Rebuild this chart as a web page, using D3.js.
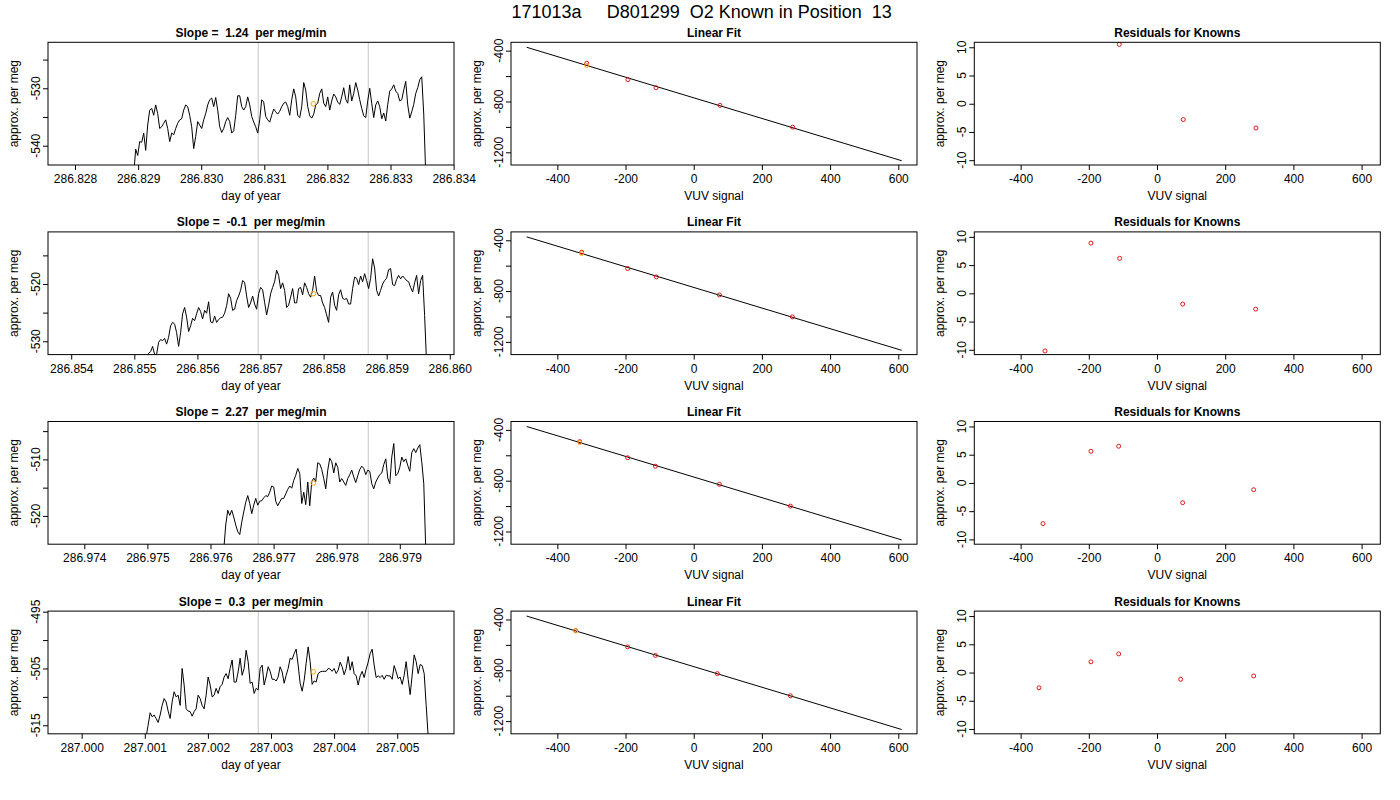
<!DOCTYPE html>
<html>
<head>
<meta charset="utf-8">
<script src="https://cdnjs.cloudflare.com/ajax/libs/d3/7.8.5/d3.min.js"></script>
<style>
body { margin: 0; background: #fff; }
text { font-family: "Liberation Sans", Arial, Helvetica, sans-serif; }
</style>
</head>
<body>
<div id="chart"></div>
<script>
var mainTitle = "171013a     D801299  O2 Known in Position  13";
var slopeTexts = ["1.24", "-0.1", "2.27", "0.3"];

// time series: start day, sampling step (day) and values (per meg)
var startDays = [286.82893, 286.855195, 286.97621, 287.001021];
var sampleStep = 0.0000317;

var series1 = [
  -545, -540.6, -541.7, -539.3, -539.4, -537.8, -540.8, -536.4, -533.8, -533.5,
  -534.7, -532.9, -534.4, -537.0, -536.7, -536.1, -535.5, -537.0, -539.3, -537.8,
  -538.1, -537.0, -536.1, -535.5, -535.3, -533.8, -532.9, -533.2, -534.7, -536.7,
  -540.5, -538.4, -535.8, -536.4, -537.0, -535.5, -534.4, -532.9, -532.0, -531.7,
  -533.2, -531.6, -533.8, -536.7, -537.7, -537.0, -535.8, -535.1, -535.8, -537.8,
  -537.4, -534.7, -531.3, -531.3, -533.2, -533.8, -533.2, -531.5, -532.9, -534.9,
  -535.9, -536.7, -537.8, -535.5, -532.0, -532.4, -534.9, -535.5, -535.9, -534.7,
  -533.6, -534.1, -534.5, -534.0, -533.2, -532.6, -532.4, -533.2, -534.7, -532.0,
  -530.1, -531.5, -534.7, -535.1, -533.2, -529.0, -530.3, -533.2, -534.8, -535.2,
  -534.5, -532.9, -532.6, -530.9, -530.1, -532.6, -533.2, -531.5, -533.8, -532.2,
  -531.0, -531.5, -532.4, -532.8, -531.5, -529.9, -531.9, -532.6, -529.4, -532.2,
  -530.9, -529.0, -530.3, -532.0, -533.5, -534.8, -535.1, -532.2, -530.0, -532.6,
  -535.1, -532.9, -532.2, -533.2, -535.3, -534.3, -535.7, -532.8, -530.5, -530.1,
  -529.4, -530.5, -530.9, -532.2, -532.0, -530.3, -528.8, -532.9, -535.2, -534.1,
  -532.8, -530.9, -529.9, -528.5, -528.0, -534.5, -545
];
var series2 = [
  -533, -532.1, -531.8, -530.9, -532.3, -532.3, -530.2, -529.7, -529.9, -529.5,
  -530.5, -529.3, -527.3, -526.7, -527.0, -528.5, -530.9, -528.5, -525.2, -524.1,
  -525.8, -528.3, -527.3, -526.0, -526.4, -525.2, -524.1, -524.8, -526.1, -524.6,
  -525.1, -523.1, -526.6, -526.8, -525.6, -526.7, -526.2, -525.9, -525.8, -525.1,
  -523.8, -521.7, -522.5, -524.6, -524.4, -522.9, -522.1, -521.1, -519.4, -519.7,
  -522.1, -524.1, -523.3, -522.1, -523.5, -524.4, -521.7, -520.6, -521.0, -523.2,
  -525.4, -523.7, -521.7, -520.6, -519.6, -517.6, -518.5, -520.8, -519.8, -521.1,
  -524.1, -523.7, -522.3, -520.8, -523.3, -523.3, -520.8, -520.6, -521.9, -519.8,
  -520.6, -521.7, -522.3, -521.1, -518.6, -521.3, -522.0, -522.0, -523.3, -524.1,
  -525.4, -526.7, -522.3, -521.4, -523.7, -524.6, -521.9, -521.0, -522.5, -522.7,
  -522.5, -523.5, -523.5, -520.8, -518.8, -519.0, -520.1, -518.6, -519.6, -518.2,
  -519.4, -520.8, -519.0, -515.6, -517.2, -521.1, -522.1, -521.1, -520.0, -519.4,
  -519.0, -517.5, -517.3, -520.1, -520.3, -519.2, -518.5, -519.1, -518.6, -519.0,
  -519.4, -519.6, -520.6, -521.4, -519.8, -518.5, -521.7, -519.4, -518.5, -525.5,
  -534
];
var series3 = [
  -526, -521.6, -519.0, -519.9, -519.0, -520.2, -521.6, -522.8, -523.3, -521.1,
  -519.3, -517.6, -516.4, -517.8, -519.6, -518.1, -516.9, -518.1, -517.4, -517.3,
  -516.8, -516.4, -516.6, -515.8, -514.7, -514.9, -517.4, -518.2, -517.5, -516.9,
  -516.9, -516.1, -515.3, -514.7, -515.1, -513.7, -512.8, -511.6, -512.5, -517.8,
  -515.8, -518.0, -514.0, -518.2, -513.9, -513.3, -513.9, -510.6, -510.8, -511.8,
  -513.4, -515.2, -511.9, -509.8, -510.4, -512.4, -510.6, -511.4, -514.0, -513.4,
  -514.0, -514.6, -513.4, -512.7, -511.9, -513.1, -514.1, -512.9, -511.8, -511.2,
  -511.6, -512.7, -511.9, -512.1, -514.3, -515.2, -514.0, -513.3, -512.7, -512.4,
  -510.9, -509.9, -513.3, -514.3, -509.6, -507.2, -512.9, -512.5, -511.4, -509.6,
  -510.4, -509.9, -511.1, -512.1, -508.8, -508.1, -508.8, -508.0, -507.4, -510.5,
  -514.3, -526
];
var series4 = [
  -517, -515.0, -512.8, -513.5, -513.2, -513.8, -514.5, -513.2, -511.5, -510.3,
  -510.9, -512.5, -513.8, -510.9, -509.1, -510.0, -509.7, -511.5, -505.0, -507.9,
  -512.1, -512.5, -512.6, -513.4, -512.6, -512.1, -509.7, -510.3, -511.5, -512.1,
  -509.7, -506.5, -507.9, -510.0, -509.7, -508.5, -509.4, -508.2, -507.8, -506.5,
  -505.9, -506.8, -505.0, -503.5, -507.4, -507.4, -505.6, -503.2, -506.2, -505.0,
  -501.8, -503.8, -507.6, -507.4, -509.4, -508.5, -508.8, -505.0, -504.4, -507.9,
  -506.5, -504.7, -505.5, -506.9, -506.9, -507.2, -506.5, -504.7, -505.6, -507.6,
  -506.2, -505.0, -503.2, -503.4, -502.4, -501.6, -504.4, -507.6, -509.0, -507.1,
  -504.1, -501.2, -503.8, -507.8, -507.2, -507.4, -505.9, -505.6, -505.5, -505.5,
  -505.5, -505.0, -505.1, -505.5, -505.0, -505.9, -505.3, -503.9, -504.7, -506.1,
  -505.0, -502.9, -505.3, -503.8, -505.9, -506.3, -507.9, -506.3, -505.5, -506.6,
  -505.1, -503.9, -502.4, -501.6, -504.4, -506.6, -506.3, -506.6, -506.2, -506.9,
  -506.2, -506.3, -506.3, -506.9, -504.5, -505.6, -506.8, -506.5, -507.8, -506.2,
  -503.8, -506.9, -509.6, -506.2, -502.6, -503.8, -505.9, -504.3, -504.5, -505.9,
  -511.5, -517
];
var allSeries = [series1, series2, series3, series4];

var dayDomains = [
  [286.827572, 286.834006],
  [286.853632, 286.860067],
  [286.973425, 286.979859],
  [286.999466, 287.0059]
];
var dayTicks = [
  [286.828, 286.829, 286.830, 286.831, 286.832, 286.833, 286.834],
  [286.854, 286.855, 286.856, 286.857, 286.858, 286.859, 286.860],
  [286.974, 286.975, 286.976, 286.977, 286.978, 286.979],
  [287.000, 287.001, 287.002, 287.003, 287.004, 287.005]
];
var megDomains = [[-543.36, -521.99], [-532.33, -510.9], [-525.0, -503.3], [-516.5, -494.9]];
var megTicks = [[-540, -535, -530, -525], [-530, -525, -520, -515], [-520, -515, -510, -505], [-515, -510, -505, -500, -495]];
var megLabels = [[-540, -530], [-530, -520], [-520, -510], [-515, -505, -495]];
var markerDays = [
  [286.830905, 286.832648],
  [286.856965, 286.858708],
  [286.976758, 286.978501],
  [287.002799, 287.004542]
];
var meanDays = [286.831777, 286.857837, 286.977629, 287.00367];
var meanMegs = [-532.7, -521.7, -514.2, -505.6];

// linear fit of the knowns
var vuvKnowns = [
  [-313.7, -193, -110.7, 77, 290.2],
  [-328.6, -193.8, -109.5, 75.3, 289.4],
  [-334.4, -193.8, -112.4, 75.3, 283.5],
  [-346.1, -193.8, -112.4, 69.4, 283.5]
];
var megKnowns = [
  [-499, -628, -691.6, -830.7, -1002.3],
  [-494.0, -622.5, -688.3, -830.2, -1003.2],
  [-492.3, -619.2, -686.2, -828.6, -1000.0],
  [-487.3, -615.5, -683.0, -826.2, -1000.6]
];
var vuvUnknown = [-313.7, -328.6, -334.4, -346.1];
var megUnknown = [-517, -504, -500, -490];
var fitSlope = -0.812, fitIntercept = -771, fitRange = [-490, 610];
var residuals = [
  [-17.8, 13.7, 10.5, -2.8, -4.3],
  [-10.2, 8.9, 6.2, -1.9, -2.8],
  [-7.2, 5.6, 6.5, -3.5, -1.2],
  [-2.7, 1.9, 3.3, -1.2, -0.6]
];

var vuvDomain = [-535.9, 654.9], vuvTicks = [-400, -200, 0, 200, 400, 600];
var fitDomain = [-1300, -334], fitTicks = [-1200, -1000, -800, -600, -400], fitLabels = [-1200, -800, -400];
var resDomain = [-10.85, 10.88], resTicks = [-10, -5, 0, 5, 10];

// layout
var width = 1400, height = 800;
var colLeft = [48, 511, 974.3],
    rowTop = [42.3, 231.9, 421.5, 611.1];
var pw = 406, ph = 122.7;
var fontFam = '"Liberation Sans", Arial, Helvetica, sans-serif';

var svg = d3.select("#chart").append("svg")
  .attr("width", width)
  .attr("height", height);

svg.append("rect").attr("width", width).attr("height", height).attr("fill", "#fff");

svg.append("text")
  .attr("x", 701.7)
  .attr("y", 18)
  .attr("text-anchor", "middle")
  .attr("font-size", 18)
  .style("white-space", "pre")
  .text(mainTitle);

function makePanel(col, row, opt) {
  var g = svg.append("g").attr("transform", "translate(" + colLeft[col] + "," + rowTop[row] + ")");
  var id = "clip" + col + "_" + row;
  g.append("clipPath").attr("id", id)
    .append("rect").attr("width", pw).attr("height", ph);

  var x = d3.scaleLinear().domain(opt.xDomain).range([0, pw]);
  var y = d3.scaleLinear().domain(opt.yDomain).range([ph, 0]);

  var xa = g.append("g")
    .attr("transform", "translate(0," + ph + ")")
    .call(d3.axisBottom(x).tickValues(opt.xTicks).tickSize(5).tickPadding(4.5).tickSizeOuter(0).tickFormat(opt.xFormat));
  xa.select(".domain").remove();
  xa.attr("font-size", 12).attr("font-family", fontFam);

  var ya = g.append("g")
    .call(d3.axisLeft(y).tickValues(opt.yTicks).tickSize(5).tickSizeOuter(0).tickFormat(""));
  ya.select(".domain").remove();

  g.append("g").selectAll("text")
    .data(opt.yLabels)
    .enter().append("text")
      .attr("transform", function(d) { return "translate(-8," + y(d) + ") rotate(-90)"; })
      .attr("text-anchor", "middle")
      .attr("font-size", 12)
      .text(function(d) { return String(d); });

  g.append("text")
    .attr("x", pw / 2)
    .attr("y", -5.5)
    .attr("text-anchor", "middle")
    .attr("font-size", 12)
    .attr("font-weight", "bold")
    .style("white-space", "pre")
    .text(opt.title);

  g.append("text")
    .attr("x", pw / 2)
    .attr("y", ph + 35)
    .attr("text-anchor", "middle")
    .attr("font-size", 12)
    .text(opt.xLabel);

  g.append("text")
    .attr("transform", "translate(-30," + (ph / 2) + ") rotate(-90)")
    .attr("text-anchor", "middle")
    .attr("font-size", 12)
    .text("approx. per meg");

  var plot = g.append("g").attr("clip-path", "url(#" + id + ")");

  g.append("rect")
    .attr("width", pw)
    .attr("height", ph)
    .attr("fill", "none")
    .attr("stroke", "#000")
    .attr("stroke-width", 1);

  return { plot: plot, x: x, y: y };
}

var dayFormat = d3.format(".3f");
var plainFormat = function(d) { return String(d); };

for (var r = 0; r < 4; r++) {
  // time series
  var p1 = makePanel(0, r, {
    xDomain: dayDomains[r], yDomain: megDomains[r],
    xTicks: dayTicks[r], yTicks: megTicks[r], yLabels: megLabels[r],
    xFormat: dayFormat,
    title: "Slope =  " + slopeTexts[r] + "  per meg/min",
    xLabel: "day of year"
  });

  p1.plot.selectAll("line.mark")
    .data(markerDays[r])
    .enter().append("line")
      .attr("class", "mark")
      .attr("x1", p1.x).attr("x2", p1.x)
      .attr("y1", 0).attr("y2", ph)
      .attr("stroke", "#d3d3d3")
      .attr("stroke-width", 1.3);

  var t0 = startDays[r];
  var lineGen = d3.line()
    .x(function(d, i) { return p1.x(t0 + i * sampleStep); })
    .y(function(d) { return p1.y(d); });

  p1.plot.append("path")
    .datum(allSeries[r])
    .attr("d", lineGen)
    .attr("fill", "none")
    .attr("stroke", "#000")
    .attr("stroke-width", 1)
    .attr("stroke-linejoin", "round");

  p1.plot.append("circle")
    .attr("cx", p1.x(meanDays[r]))
    .attr("cy", p1.y(meanMegs[r]))
    .attr("r", 2.3)
    .attr("fill", "none")
    .attr("stroke", "orange")
    .attr("stroke-width", 1);

  // linear fit
  var p2 = makePanel(1, r, {
    xDomain: vuvDomain, yDomain: fitDomain,
    xTicks: vuvTicks, yTicks: fitTicks, yLabels: fitLabels,
    xFormat: plainFormat,
    title: "Linear Fit",
    xLabel: "VUV signal"
  });

  var fitLine = d3.line()
    .x(function(d) { return p2.x(d); })
    .y(function(d) { return p2.y(fitIntercept + fitSlope * d); });

  p2.plot.append("path")
    .datum(fitRange)
    .attr("d", fitLine)
    .attr("fill", "none")
    .attr("stroke", "#000")
    .attr("stroke-width", 1);

  var knowns = vuvKnowns[r].map(function(v, i) { return [v, megKnowns[r][i]]; });
  p2.plot.selectAll("circle.known")
    .data(knowns)
    .enter().append("circle")
      .attr("class", "known")
      .attr("cx", function(d) { return p2.x(d[0]); })
      .attr("cy", function(d) { return p2.y(d[1]); })
      .attr("r", 2)
      .attr("fill", "none")
      .attr("stroke", "#e00000")
      .attr("stroke-width", 0.9);

  p2.plot.append("circle")
    .attr("cx", p2.x(vuvUnknown[r]))
    .attr("cy", p2.y(megUnknown[r]))
    .attr("r", 2)
    .attr("fill", "none")
    .attr("stroke", "orange")
    .attr("stroke-width", 1);

  // residuals
  var p3 = makePanel(2, r, {
    xDomain: vuvDomain, yDomain: resDomain,
    xTicks: vuvTicks, yTicks: resTicks, yLabels: resTicks,
    xFormat: plainFormat,
    title: "Residuals for Knowns",
    xLabel: "VUV signal"
  });

  var res = vuvKnowns[r].map(function(v, i) { return [v, residuals[r][i]]; });
  p3.plot.selectAll("circle.res")
    .data(res)
    .enter().append("circle")
      .attr("class", "res")
      .attr("cx", function(d) { return p3.x(d[0]); })
      .attr("cy", function(d) { return p3.y(d[1]); })
      .attr("r", 2)
      .attr("fill", "none")
      .attr("stroke", "#e00000")
      .attr("stroke-width", 0.9);
}
</script>
</body>
</html>
